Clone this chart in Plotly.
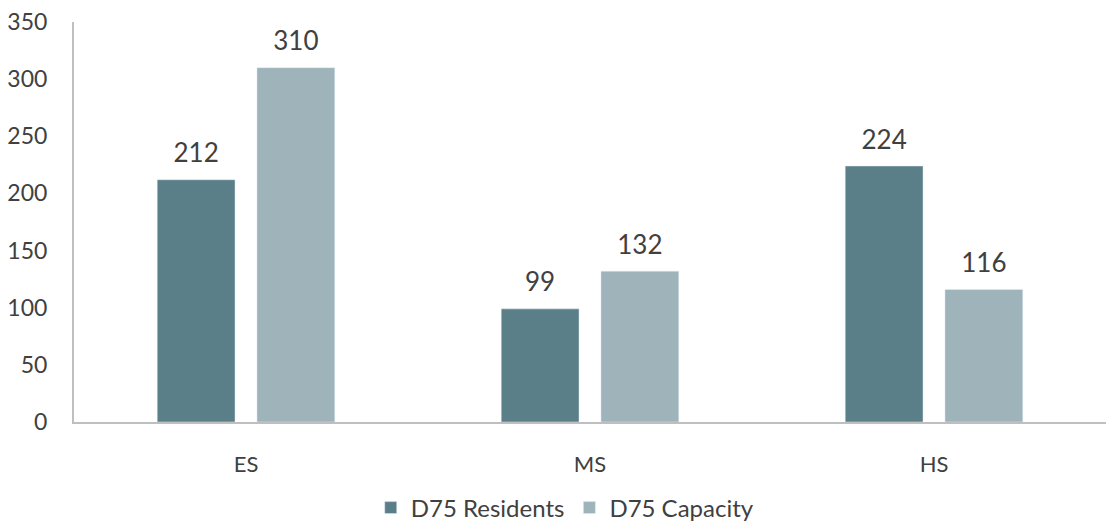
import plotly.graph_objects as go

categories = ["ES", "MS", "HS"]
residents = [212, 99, 224]
capacity = [310, 132, 116]
y_ticks = [0, 50, 100, 150, 200, 250, 300, 350]

FONT = "Lato, 'Open Sans', sans-serif"
TXT = "#404040"
series = [("D75 Residents", residents, "#5B7F89"), ("D75 Capacity", capacity, "#9EB3BA")]

fig = go.Figure()
for name, vals, col in series:
    fig.add_trace(go.Bar(
        x=categories, y=vals, name=name, offsetgroup=name,
        marker=dict(color=col),
    ))
for name, vals, col in series:
    fig.add_trace(go.Scatter(
        x=categories, y=vals, mode="markers+text", offsetgroup=name,
        text=[str(v) for v in vals], textposition="top center",
        marker=dict(size=16, color="rgba(0,0,0,0)"),
        textfont=dict(size=26, color=TXT, family=FONT),
        showlegend=False, cliponaxis=False, hoverinfo="skip",
    ))

fig.update_layout(
    width=1107, height=531,
    margin=dict(l=74, r=1, t=22, b=102),
    paper_bgcolor="white", plot_bgcolor="white",
    barmode="group", bargap=0.42, bargroupgap=0.22,
    scattermode="group", scattergap=0.42,
    font=dict(family=FONT, color=TXT, size=22),
    legend=dict(orientation="h", x=0.476, xanchor="center", y=-0.215, yanchor="middle",
                font=dict(size=24, color=TXT), itemwidth=30, traceorder="normal"),
)
fig.update_xaxes(showline=True, linecolor="#BFBFBF", linewidth=2, showgrid=False,
                 ticks="", tickfont=dict(size=22, color=TXT), ticklabelstandoff=22,
                 automargin=False)
fig.update_yaxes(range=[0, 350], tickvals=y_ticks, showgrid=False, zeroline=False,
                 showline=True, linecolor="#BFBFBF", linewidth=2, ticks="",
                 tickfont=dict(size=23, color=TXT), ticklabelstandoff=20,
                 automargin=False)

fig.write_html(
    "out.html",
    config={"displayModeBar": False, "staticPlot": True},
    post_script=(
        "document.documentElement.style.overflow='hidden';"
        "document.body.style.margin='0';"
        "document.body.style.overflow='hidden';"
    ),
)
